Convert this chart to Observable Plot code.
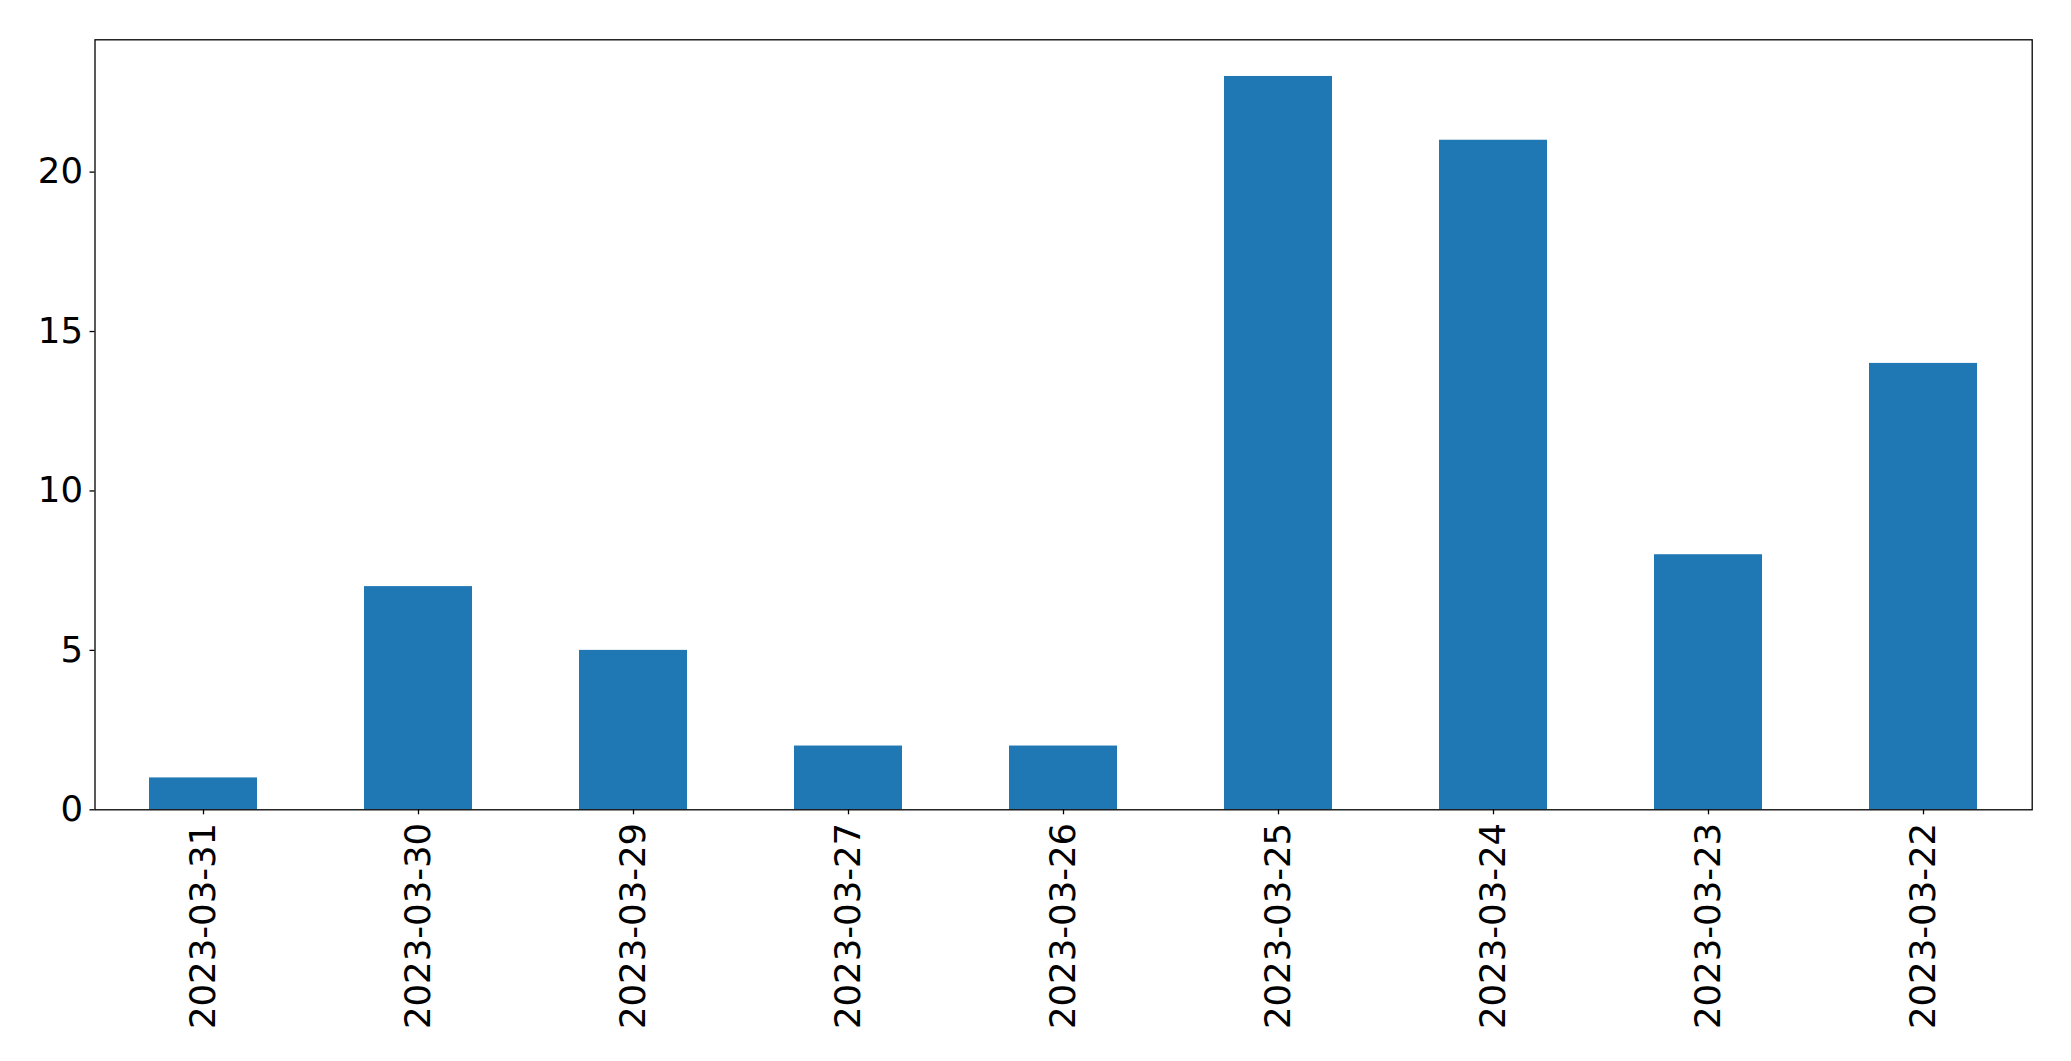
<!DOCTYPE html>
<html>
<head>
<meta charset="utf-8">
<script src="https://cdn.jsdelivr.net/npm/d3@7"></script>
<script src="https://cdn.jsdelivr.net/npm/@observablehq/plot@0.6"></script>
<style>
  html, body { margin: 0; padding: 0; background: #fff; }
  #chart svg { display: block; }
</style>
</head>
<body>
<div id="chart"></div>
<script>
const dates = ["2023-03-31", "2023-03-30", "2023-03-29", "2023-03-27", "2023-03-26", "2023-03-25", "2023-03-24", "2023-03-23", "2023-03-22"];
const counts = [1, 7, 5, 2, 2, 23, 21, 8, 14];
const yTicks = [0, 5, 10, 15, 20];

const data = dates.map((d, i) => ({date: d, count: counts[i]}));

const chart = Plot.plot({
  width: 2071,
  height: 1061,
  marginLeft: 94.5,
  marginRight: 39.3,
  marginTop: 39.3,
  marginBottom: 251.7,
  style: {fontFamily: "DejaVu Sans", fontSize: "35.5px", color: "#000", background: "#fff"},
  x: {domain: dates, paddingInner: 0.5, paddingOuter: 0.25, label: null},
  y: {domain: [0, 24.15], label: null},
  marks: [
    Plot.barY(data, {x: "date", y: "count", fill: "#1f77b4"}),
    Plot.axisY({ticks: yTicks, tickSize: 5, tickPadding: 7, label: null, tickFormat: d => String(d), stroke: "#000", strokeOpacity: 1, strokeWidth: 1.3}),
    Plot.axisX({tickSize: 5, tickPadding: 8, tickRotate: -90, label: null, stroke: "#000", strokeOpacity: 1, strokeWidth: 1.3}),
    Plot.frame({stroke: "#000", strokeWidth: 1.3})
  ]
});
document.getElementById("chart").appendChild(chart);
</script>
</body>
</html>
